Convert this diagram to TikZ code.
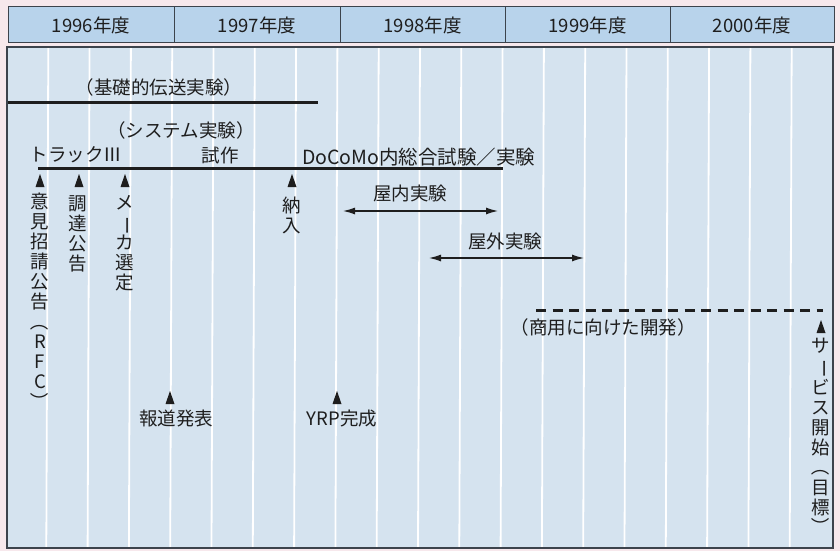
\documentclass[tikz,border=0pt]{standalone}
\usepackage{fontspec}
\setmainfont{Noto Sans CJK JP}
\usetikzlibrary{arrows.meta}
\definecolor{bgpink}{HTML}{F7E8EC}
\definecolor{hdrblue}{HTML}{B8D3EB}
\definecolor{panelblue}{HTML}{D5E3EF}
\definecolor{frame}{HTML}{3C434C}
\definecolor{ink}{HTML}{1E1E1E}
\tikzset{
  lbl/.style={inner sep=0pt, text=ink, font=\fontsize{18.5}{20}\selectfont},
  hdr/.style={inner sep=0pt, text=ink, font=\fontsize{18.5}{20}\selectfont},
  vtext/.style={inner sep=0pt, text=ink, align=center, anchor=north, font=\fontsize{18.5}{20}\selectfont},
  phase/.style={line width=3pt, ink},
  span/.style={line width=1.2pt, ink, {Latex[length=12pt,width=7pt]}-{Latex[length=12pt,width=7pt]}},
  grid/.style={white, line width=1.8pt},
  tri/.pic={\fill[ink] (-4.5,0) -- (4.5,0) -- (0,-13) -- cycle;}
}
\newcommand{\vrot}[1]{\rotatebox[origin=c]{-90}{#1}}
\begin{document}
\begin{tikzpicture}[x=1pt,y=-1pt]
\useasboundingbox (0,0) rectangle (840,551);
\fill[bgpink] (0,0) rectangle (840,551);
% header
\draw[frame, fill=hdrblue, line width=1pt] (8,7) rectangle (834,43);
\foreach \xx in {174,340,505,670} \draw[frame, line width=1pt] (\xx,7) -- (\xx,43);
\node[hdr] (y96) at (91,25) {1996年度};
\node[hdr] (y97) at (257,25) {1997年度};
\node[hdr] (y98) at (422.5,25) {1998年度};
\node[hdr] (y99) at (587.5,25) {1999年度};
\node[hdr] (y00) at (752,25) {2000年度};
% panel
\fill[panelblue] (7,47) rectangle (833,548);
\foreach \k in {1,...,19} \draw[grid] (7+41.3*\k,48) -- (5+41.3*\k,547);
\draw[frame, line width=1.3pt] (7,47) rectangle (833,548);
% basic transmission experiment
\coordinate (b0) at (8,102);
\coordinate (b1) at (318,102);
\draw[phase] (b0) -- (b1);
\node[lbl] (basic) at (159,87) {（基礎的伝送実験）};
% system experiment
\node[lbl] (sys) at (181,130) {（システム実験）};
\node[lbl] (track) at (76,155) {トラックⅢ};
\node[lbl] (proto) at (220,155) {試作};
\node[lbl, anchor=west, font=\fontsize{19.5}{20}\selectfont] (docomo) at (302,157) {DoCoMo内総合試験／実験};
\coordinate (s0) at (38,168);
\coordinate (s1) at (503,168);
\draw[phase] (s0) -- (s1);
% markers
\pic at (40,187) {tri};
\pic at (79,187) {tri};
\pic at (125,187) {tri};
\pic at (292,187) {tri};
\node[vtext] (rfc) at (40,193) {意\\見\\招\\請\\公\\告\\\vrot{（}\\R\\F\\C\\\vrot{）}};
\node[vtext] (chotatsu) at (78,195) {調\\達\\公\\告};
\node[vtext] (maker) at (125,195) {メ\\\vrot{ー}\\カ\\選\\定};
\node[vtext] (nonyu) at (292,197) {納\\入};
% indoor / outdoor
\coordinate (in0) at (343,211);
\coordinate (in1) at (498,211);
\draw[span] (in0) -- (in1);
\node[lbl] (indoor) at (410,193) {屋内実験};
\coordinate (out0) at (429,258);
\coordinate (out1) at (584,258);
\draw[span] (out0) -- (out1);
\node[lbl] (outdoor) at (505,241) {屋外実験};
% commercial development
\coordinate (c0) at (536,310);
\coordinate (c1) at (823,310);
\draw[line width=3pt, ink, dash pattern=on 10pt off 6.5pt] (c0) -- (c1);
\node[lbl] (comm) at (603,327) {（商用に向けた開発）};
\pic at (821,333) {tri};
\node[vtext] (service) at (821,338) {サ\\\vrot{ー}\\ビ\\ス\\開\\始\\\vrot{（}\\目\\標\\\vrot{）}};
% bottom events
\pic at (170,404) {tri};
\node[lbl] (press) at (176,419) {報道発表};
\pic at (337,404) {tri};
\node[lbl] (yrp) at (342,419) {YRP完成};
\end{tikzpicture}
\end{document}
